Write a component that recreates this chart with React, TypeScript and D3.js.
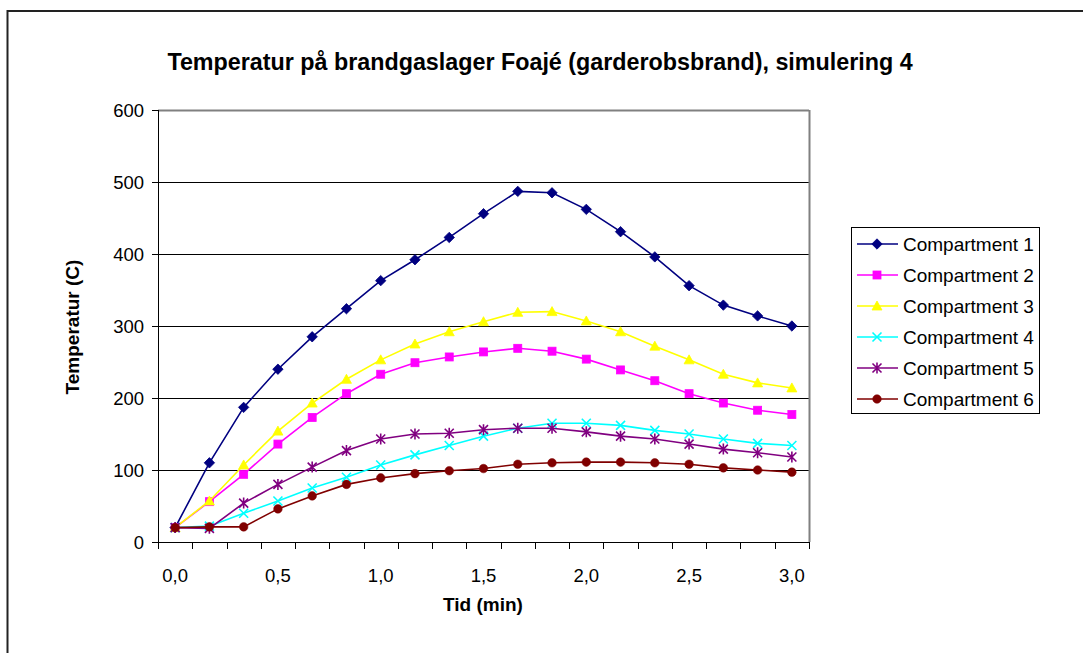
import React from "react";
import * as d3 from "d3";

const categories: string[] = [
  "0,0", "0,17", "0,33", "0,5", "0,67", "0,83", "1,0", "1,17", "1,33", "1,5",
  "1,67", "1,83", "2,0", "2,17", "2,33", "2,5", "2,67", "2,83", "3,0",
];
const shownLabels: string[] = ["0,0", "0,5", "1,0", "1,5", "2,0", "2,5", "3,0"];

const compartment1 = [20, 110, 187, 240, 285, 324, 363, 392, 423, 456, 487, 485, 462, 431, 396, 356, 329, 314, 300];
const compartment2 = [20, 56, 94, 136, 173, 206, 233, 249, 257, 264, 269, 265, 254, 239, 224, 206, 193, 183, 177];
const compartment3 = [20, 57, 107, 154, 193, 226, 253, 275, 292, 306, 319, 320, 307, 292, 272, 253, 233, 221, 214];
const compartment4 = [20, 22, 40, 57, 75, 90, 107, 121, 134, 147, 158, 165, 165, 162, 155, 150, 143, 137, 134];
const compartment5 = [20, 19, 54, 80, 104, 127, 143, 150, 151, 156, 158, 158, 153, 147, 143, 136, 129, 124, 118];
const compartment6 = [20, 21, 21, 46, 64, 80, 89, 95, 99, 102, 108, 110, 111, 111, 110, 108, 103, 100, 97];

const yTicks = [0, 100, 200, 300, 400, 500, 600];

const seriesNames = ["Compartment 1", "Compartment 2", "Compartment 3", "Compartment 4", "Compartment 5", "Compartment 6"];
const seriesValues = [compartment1, compartment2, compartment3, compartment4, compartment5, compartment6];
const seriesColors = ["#000080", "#FF00FF", "#FFFF00", "#00FFFF", "#800080", "#800000"];
const seriesMarkers = ["diamond", "square", "triangle", "x", "star", "circle"];

const W = 1083;
const H = 653;
const plot = { left: 158, right: 809, top: 110, bottom: 542 };
const FONT = "Arial, 'Liberation Sans', sans-serif";

function Marker({ type, x, y, color }: { type: string; x: number; y: number; color: string }) {
  const s = 4.6;
  switch (type) {
    case "diamond":
      return <path d={`M${x},${y - s - 0.6}L${x + s + 0.6},${y}L${x},${y + s + 0.6}L${x - s - 0.6},${y}Z`} fill={color} stroke={color} strokeWidth={0.8} />;
    case "square":
      return <rect x={x - 4} y={y - 4} width={8} height={8} fill={color} stroke={color} strokeWidth={0.8} />;
    case "triangle":
      return <path d={`M${x},${y - 5}L${x + 5},${y + 4}L${x - 5},${y + 4}Z`} fill={color} stroke={color} strokeWidth={0.8} />;
    case "x":
      return <path d={`M${x - 4.5},${y - 4.5}L${x + 4.5},${y + 4.5}M${x - 4.5},${y + 4.5}L${x + 4.5},${y - 4.5}`} stroke={color} strokeWidth={1.6} fill="none" />;
    case "star":
      return <path d={`M${x - 4.5},${y - 4.5}L${x + 4.5},${y + 4.5}M${x - 4.5},${y + 4.5}L${x + 4.5},${y - 4.5}M${x},${y - 5.5}L${x},${y + 5.5}`} stroke={color} strokeWidth={1.6} fill="none" />;
    case "circle":
      return <circle cx={x} cy={y} r={4.3} fill={color} stroke={color} strokeWidth={0.5} />;
    default:
      return null;
  }
}

export default function App() {
  const x = d3.scaleBand<string>().domain(categories).range([plot.left, plot.right]).padding(0);
  const y = d3.scaleLinear().domain([0, 600]).range([plot.bottom, plot.top]);
  const cx = (c: string) => (x(c) as number) + x.bandwidth() / 2;

  const line = d3
    .line<number>()
    .x((_, i) => cx(categories[i]))
    .y((v) => y(v));

  const boundaries = categories.map((c) => x(c) as number).concat([plot.right]);

  const legend = { x: 851, y: 227, w: 188, h: 186, rowY0: 244, rowStep: 31 };

  return (
    <svg width={W} height={H} style={{ position: "absolute", left: 0, top: 0, fontFamily: FONT }}>
      <rect x={0} y={0} width={W} height={H} fill="#fff" />
      {/* outer chart border */}
      <path d={`M7.5,${H}L7.5,11L${W},11`} fill="none" stroke="#222" strokeWidth={2} />

      <text x={540} y={70} textAnchor="middle" fontSize={23.3} fontWeight="bold" fill="#000">
        Temperatur på brandgaslager Foajé (garderobsbrand), simulering 4
      </text>

      {/* gridlines */}
      {yTicks.filter((t) => t > 0 && t < 600).map((t) => (
        <line key={t} x1={plot.left} x2={plot.right} y1={Math.round(y(t)) + 0.5} y2={Math.round(y(t)) + 0.5} stroke="#000" strokeWidth={1} />
      ))}
      {/* plot area border */}
      <line x1={plot.left} x2={plot.right} y1={plot.top + 0.5} y2={plot.top + 0.5} stroke="#808080" strokeWidth={2} />
      <line x1={plot.right + 0.5} x2={plot.right + 0.5} y1={plot.top} y2={plot.bottom} stroke="#808080" strokeWidth={2} />

      {/* y axis */}
      <line x1={plot.left + 0.5} x2={plot.left + 0.5} y1={plot.top} y2={plot.bottom} stroke="#000" />
      {yTicks.map((t) => (
        <g key={t}>
          <line x1={plot.left - 6} x2={plot.left} y1={Math.round(y(t)) + 0.5} y2={Math.round(y(t)) + 0.5} stroke="#000" />
          <text x={plot.left - 14} y={y(t) + 6.5} textAnchor="end" fontSize={18.5} fill="#000">{t}</text>
        </g>
      ))}

      {/* x axis */}
      <line x1={plot.left} x2={plot.right} y1={plot.bottom + 0.5} y2={plot.bottom + 0.5} stroke="#000" />
      {boundaries.map((b, i) => (
        <line key={i} x1={Math.round(b) + 0.5} x2={Math.round(b) + 0.5} y1={plot.bottom} y2={plot.bottom + 7} stroke="#000" />
      ))}
      {categories.map((c) =>
        shownLabels.includes(c) ? (
          <text key={c} x={cx(c)} y={582} textAnchor="middle" fontSize={18.5} fill="#000">{c}</text>
        ) : null
      )}

      <text x={483} y={611} textAnchor="middle" fontSize={19} fontWeight="bold" fill="#000">Tid (min)</text>
      <text transform={`translate(79,${327}) rotate(-90)`} textAnchor="middle" fontSize={19} fontWeight="bold" fill="#000">Temperatur (C)</text>

      {/* series */}
      {seriesValues.map((vals, si) => (
        <g key={si}>
          <path d={line(vals) as string} fill="none" stroke={seriesColors[si]} strokeWidth={1.6} />
          {vals.map((v, i) => (
            <Marker key={i} type={seriesMarkers[si]} x={cx(categories[i])} y={y(v)} color={seriesColors[si]} />
          ))}
        </g>
      ))}

      {/* legend */}
      <rect x={legend.x + 0.5} y={legend.y + 0.5} width={legend.w} height={legend.h} fill="#fff" stroke="#000" strokeWidth={1} />
      {seriesNames.map((n, i) => {
        const ry = legend.rowY0 + i * legend.rowStep;
        return (
          <g key={n}>
            <line x1={857} x2={898} y1={ry} y2={ry} stroke={seriesColors[i]} strokeWidth={1.6} />
            <Marker type={seriesMarkers[i]} x={877} y={ry} color={seriesColors[i]} />
            <text x={903} y={ry + 6.5} fontSize={19} fill="#000">{n}</text>
          </g>
        );
      })}
    </svg>
  );
}
